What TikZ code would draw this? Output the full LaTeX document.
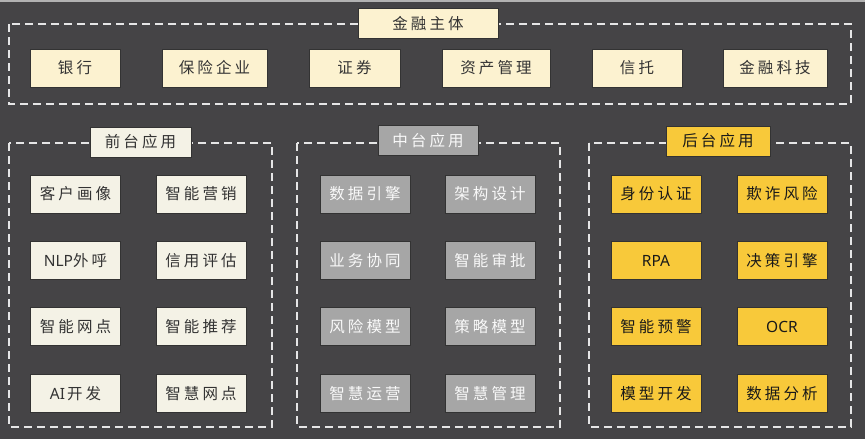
\documentclass[tikz,border=0pt]{standalone}
\usepackage{fontspec}
\newfontfamily\cjk[LetterSpace=20]{Noto Sans CJK SC}
\newfontfamily\latf{Noto Sans}
\definecolor{bgc}{HTML}{454446}
\definecolor{creamc}{HTML}{FCF2D0}
\definecolor{whitec}{HTML}{F4F2E6}
\definecolor{grayc}{HTML}{A6A6A6}
\definecolor{yelc}{HTML}{F8C93A}
\definecolor{dashc}{HTML}{E6E6E6}
\definecolor{txtc}{HTML}{333333}
\begin{document}
\begin{tikzpicture}[x=1pt,y=-1pt,
  box/.style={draw=black!80,line width=1pt,minimum height=38pt,inner sep=0pt,font=\cjk\fontsize{15.5}{17}\selectfont,text=txtc},
  topbox/.style={box,fill=creamc},
  frontbox/.style={box,fill=whitec,minimum width=90pt},
  midbox/.style={box,fill=grayc,text=white!95!gray,minimum width=90pt},
  backbox/.style={box,fill=yelc,text=black!90,minimum width=90pt},
  titlebox/.style={box,minimum height=30pt},
  group/.style={draw=dashc,line width=1.8pt,dash pattern=on 8pt off 5pt},
  lat/.style={font=\latf\bfseries\fontsize{15.5}{17}\selectfont}
]
\useasboundingbox (0,0) rectangle (865,439);
\fill[bgc] (0,0) rectangle (865,439);
\draw[gray!60,line width=1.5pt] (0,0.75) -- (865,0.75);

% dashed groups
\draw[group] (9,24) rectangle (851,104);
\draw[group] (9,143) rectangle (272,427);
\draw[group] (297,143) rectangle (560,427);
\draw[group] (589,143) rectangle (851,427);

% top section
\node[titlebox,fill=creamc,minimum width=140pt] (tt) at (428,23.5) {金融主体};
\node[topbox,minimum width=90pt] (t1) at (75,68) {银行};
\node[topbox,minimum width=105pt] (t2) at (214.5,68) {保险企业};
\node[topbox,minimum width=91pt] (t3) at (354.5,68) {证券};
\node[topbox,minimum width=108pt] (t4) at (496,68) {资产管理};
\node[topbox,minimum width=90pt] (t5) at (637,68) {信托};
\node[topbox,minimum width=104pt] (t6) at (775,68) {金融科技};

% front
\node[titlebox,fill=whitec,minimum width=101pt] (ft) at (140.5,142) {前台应用};
\node[frontbox] (f1) at (75.5,194) {客户画像};
\node[frontbox] (f2) at (201,194) {智能营销};
\node[frontbox] (f3) at (75.5,260.5) {{\latf\bfseries NLP}外呼};
\node[frontbox] (f4) at (201,260.5) {信用评估};
\node[frontbox] (f5) at (75.5,326.5) {智能网点};
\node[frontbox] (f6) at (201,326.5) {智能推荐};
\node[frontbox] (f7) at (75.5,393.5) {{\latf\bfseries AI\hspace{2pt}}开发};
\node[frontbox] (f8) at (201,393.5) {智慧网点};

% middle
\node[titlebox,fill=grayc,text=white!95!gray,minimum width=100pt] (mt) at (428,140.5) {中台应用};
\node[midbox] (m1) at (365,194) {数据引擎};
\node[midbox] (m2) at (490,194) {架构设计};
\node[midbox] (m3) at (365,260.5) {业务协同};
\node[midbox] (m4) at (490,260.5) {智能审批};
\node[midbox] (m5) at (365,326.5) {风险模型};
\node[midbox] (m6) at (490,326.5) {策略模型};
\node[midbox] (m7) at (365,393.5) {智慧运营};
\node[midbox] (m8) at (490,393.5) {智慧管理};

% back
\node[titlebox,fill=yelc,text=black!90,minimum width=104pt] (bt) at (718,141) {后台应用};
\node[backbox] (b1) at (656,194) {身份认证};
\node[backbox] (b2) at (782,194) {欺诈风险};
\node[backbox,lat] (b3) at (656,260.5) {RPA};
\node[backbox] (b4) at (782,260.5) {决策引擎};
\node[backbox] (b5) at (656,326.5) {智能预警};
\node[backbox,lat] (b6) at (782,326.5) {OCR};
\node[backbox] (b7) at (656,393.5) {模型开发};
\node[backbox] (b8) at (782,393.5) {数据分析};
\end{tikzpicture}
\end{document}
